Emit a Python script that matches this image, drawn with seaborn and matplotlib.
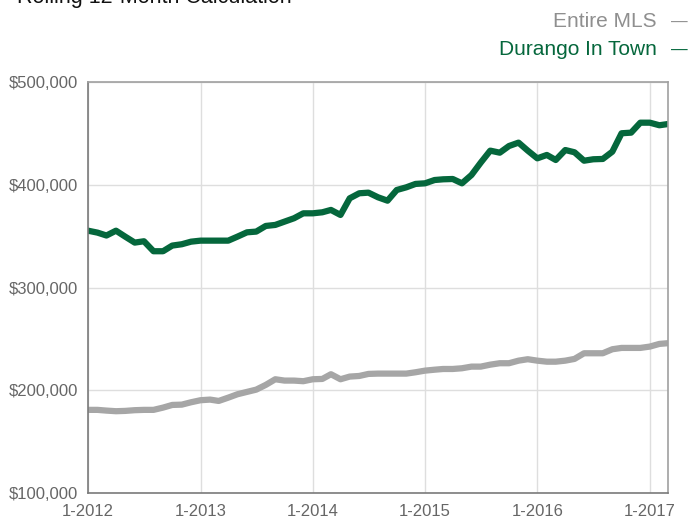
import matplotlib.pyplot as plt
import matplotlib.dates as mdates
import matplotlib.ticker as mticker
import pandas as pd
import seaborn as sns

# monthly rolling 12-month values, 1-2012 .. 3-2017
months = pd.date_range("2012-01-01", periods=63, freq="MS")

durango_in_town = [
    355300, 353400, 350600, 355300, 349500, 343700, 345000, 335300, 335300, 340800, 342100, 344600,
    345600, 345600, 345600, 345600, 349500, 353700, 354400, 359900, 360900, 364100, 367400, 372200,
    372200, 373200, 375500, 370600, 386800, 391700, 392300, 387800, 384500, 394900, 397500, 400800,
    401400, 404600, 405300, 405600, 401400, 409500, 421500, 433200, 431200, 437700, 441000, 433200,
    425700, 429000, 424100, 433800, 431600, 423400, 424800, 425100, 432200, 450100, 450700, 460400,
    460400, 457900, 459100,
]

entire_mls = [
    180900, 180900, 180200, 179600, 179900, 180600, 180900, 180900, 183100, 185700, 186000, 188300,
    190300, 190900, 189600, 192800, 196100, 198400, 200600, 205200, 210700, 209400, 209400, 208800,
    210700, 211000, 215600, 210700, 213300, 213900, 215900, 216200, 216200, 216200, 216200, 217500,
    219100, 220000, 220700, 220700, 221400, 223000, 223000, 224900, 226300, 226300, 228800, 230200,
    228800, 227800, 227800, 228800, 230500, 236000, 236000, 236000, 239900, 241200, 241200, 241200,
    242500, 245100, 245800,
]

series_names = ["Entire MLS", "Durango In Town"]
colors = {"Entire MLS": "#a6a6a6", "Durango In Town": "#05673c"}
label_colors = {"Entire MLS": "#8f8f8f", "Durango In Town": "#05673c"}


def get_data() -> pd.DataFrame:
    df = pd.DataFrame({"month": months, "Entire MLS": entire_mls, "Durango In Town": durango_in_town})
    return df.melt(id_vars="month", var_name="series", value_name="price")


sns.set_style("white")
plt.rcParams["font.family"] = ["Liberation Sans", "DejaVu Sans"]

df = get_data()
fig = plt.figure(figsize=(6.88, 5.2), dpi=100)
ax = fig.add_axes([88 / 688, 1 - 493 / 520, 580 / 688, 411 / 520])

sns.lineplot(data=df, x="month", y="price", hue="series", hue_order=series_names,
             palette=colors, linewidth=4.5, legend=False, ax=ax)
for line in ax.lines:
    line.set_solid_joinstyle("round")

ax.set_xlim(months[0], months[-1])
ax.set_ylim(100000, 500000)
ax.yaxis.set_major_locator(mticker.MultipleLocator(100000))
ax.yaxis.set_major_formatter(mticker.FuncFormatter(lambda v, p: f"${v:,.0f}"))
ax.xaxis.set_major_locator(mdates.YearLocator())
ax.xaxis.set_major_formatter(mdates.DateFormatter("1-%Y"))
ax.set_xlabel("")
ax.set_ylabel("")

ax.grid(True, color="#dedede", linewidth=1)
ax.set_axisbelow(True)
for side in ["left", "bottom"]:
    ax.spines[side].set_color("#7a7a7a")
for side in ["top", "right"]:
    ax.spines[side].set_color("#a0a0a0")
for s in ax.spines.values():
    s.set_linewidth(1.2)
ax.tick_params(axis="both", which="major", length=4, width=1, color="#7a7a7a",
               labelsize=12, labelcolor="#666666", pad=3)
ax.tick_params(axis="x", pad=4)

# title sits partly above the top edge, as in the original export
fig.text(0.025, 0.995, "Rolling 12-Month Calculation", fontsize=15.5, color="#111111",
         ha="left", va="baseline")

for name, yb in [("Entire MLS", 1 - 27 / 520), ("Durango In Town", 1 - 55 / 520)]:
    fig.text(657 / 688, yb, name, fontsize=15, color=label_colors[name], ha="right", va="baseline")
    fig.text(671 / 688, yb, "—", fontsize=12, color=label_colors[name], ha="left", va="baseline")

plt.savefig("out.png", dpi=100)
